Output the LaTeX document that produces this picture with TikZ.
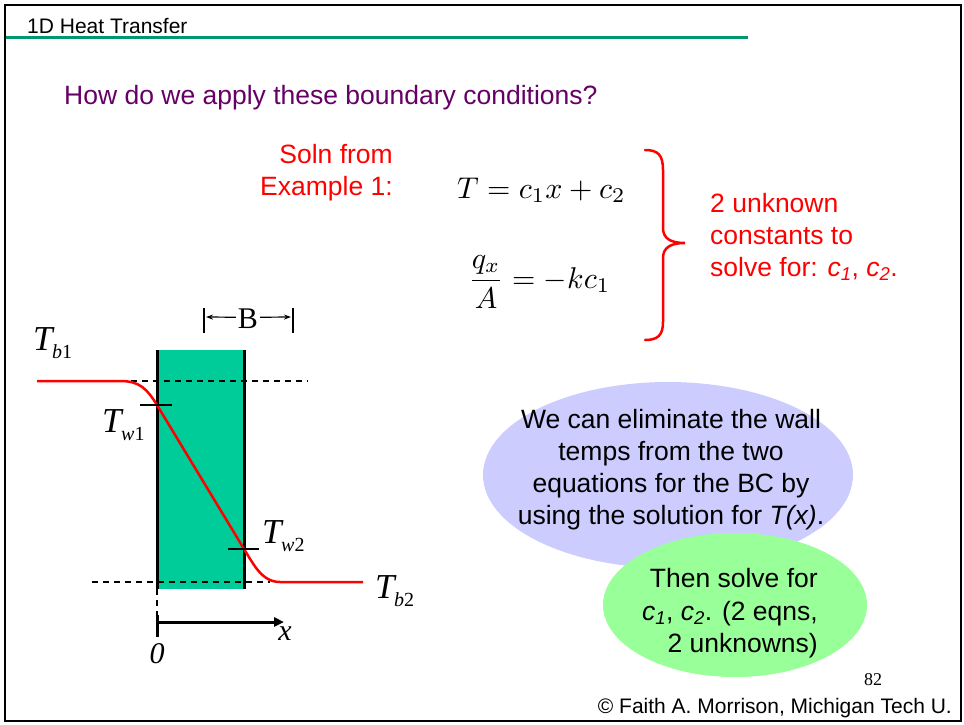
\documentclass[tikz,border=0pt]{standalone}
\usepackage{amsmath}
\usepackage{graphicx}
\usepackage[no-math]{fontspec}
\setmainfont{Liberation Sans}
\newfontfamily\timesf{Liberation Serif}
\usetikzlibrary{arrows.meta}
\definecolor{titlegreen}{RGB}{0,150,110}
\definecolor{wallgreen}{RGB}{0,204,153}
\definecolor{headpurple}{RGB}{102,0,102}
\definecolor{lavender}{RGB}{204,204,255}
\definecolor{lightgreen}{RGB}{153,255,153}
\newcommand{\Tlab}[2]{{\timesf\fontsize{35}{40}\selectfont\itshape T\kern-0.5pt\raisebox{-8pt}{\fontsize{20}{24}\selectfont #1\upshape #2}}}
\newcommand{\csub}[1]{{\itshape c\textsubscript{#1}}}
\tikzset{
  txt/.style={inner sep=0pt, font=\fontsize{26.5}{32}\selectfont},
  eqn/.style={inner sep=0pt, font=\fontsize{10}{12}\selectfont},
  thick black/.style={line width=3pt, black},
  dash line/.style={line width=1.2pt, dashed, dash pattern=on 6pt off 5pt},
  lab/.style={inner sep=0pt, anchor=base west},
}
\begin{document}
\begin{tikzpicture}[x=1pt,y=-1pt]
\useasboundingbox (0,0) rectangle (964,724);
\fill[white] (0,0) rectangle (964,724);
\draw[line width=2pt] (5,5) rectangle (961,721);
\draw[titlegreen, line width=3pt] (6,37) -- (748,37);
\node[txt, anchor=base west, font=\fontsize{21}{24}\selectfont] (title) at (27,33) {1D Heat Transfer};
\node[txt, anchor=base west, headpurple] (heading) at (64,104) {How do we apply these boundary conditions?};

% solution text
\node[txt, anchor=base east, red] (soln1) at (393,163) {Soln from};
\node[txt, anchor=base east, red] (soln2) at (393,195) {Example 1:};
\node[eqn, anchor=base west] (eq1) at (457,198) {\scalebox{3}{$T = c_1x + c_2$}};
\node[eqn, anchor=west] (eq2) at (468,282) {\scalebox{3}{$\dfrac{q_x}{A} = -kc_1$}};

% brace
\draw[red, line width=2.5pt, line cap=round] (645,150) .. controls (658,150) and (663,155) .. (663,170)
  -- (663,228) .. controls (663,238) and (670,243) .. (685,243)
  .. controls (670,243) and (663,248) .. (663,258)
  -- (663,322) .. controls (663,335) and (658,340) .. (645,340);
\node[txt, anchor=base west, red] (unk1) at (710,212) {2 unknown};
\node[txt, anchor=base west, red] (unk2) at (710,244) {constants to};
\node[txt, anchor=base west, red] (unk3) at (710,276) {solve for: \csub{1}, \csub{2}.};

% wall diagram
\fill[wallgreen] (157,350) rectangle (244,589);
\draw[dash line] (120,381) -- (308,381);
\draw[dash line] (92,582) -- (270,582);
\draw[dash line] (157,589) -- (157,615);
\draw[thick black] (157,350) -- (157,589);
\draw[thick black] (244,350) -- (244,589);
\draw[red, line width=2.5pt] (37,381) -- (120,381) .. controls (140,381) and (147,389) .. (157,405)
  -- (244,549) .. controls (254,565) and (262,582) .. (280,582) -- (363,582);
\draw[line width=2.5pt] (140,405) -- (172,405);
\draw[line width=2.5pt] (228,549) -- (259,549);

\node[lab] (tb1) at (33,350) {\Tlab{b}{1}};
\node[lab] (tw1) at (102,432) {\Tlab{w}{1}};
\node[lab] (tw2) at (262,543) {\Tlab{w}{2}};
\node[lab] (tb2) at (375,598) {\Tlab{b}{2}};

% B dimension
\draw[line width=2.5pt] (204,308) -- (204,333);
\draw[line width=2.5pt] (293,308) -- (293,333);
\node[inner sep=0pt, anchor=base, font=\timesf\fontsize{30}{34}\selectfont] (B) at (248,328) {B};
\draw[line width=1.2pt, -{Stealth[length=7pt,width=5pt]}] (B.west) ++(-2,-1) coordinate (bl) -- (206,317);
\draw[line width=1.2pt, -{Stealth[length=7pt,width=5pt]}] (B.east) ++(2,-1) coordinate (br) -- (291,317);

% axis
\draw[thick black] (157,615) -- (157,637);
\node[inner sep=0pt, anchor=base, font=\timesf\fontsize{30}{34}\selectfont\itshape] (xl) at (285,640) {x};
\node[inner sep=0pt, anchor=base, font=\timesf\fontsize{30}{34}\selectfont\itshape] (zero) at (157,663) {0};
\draw[line width=3pt, -{Triangle[length=10pt,width=9pt]}] (157,622) -- (284,622);

% ellipses
\fill[lavender] (668,475) ellipse [x radius=185, y radius=93];
\fill[lightgreen] (735,605) ellipse [x radius=132, y radius=72];
\node[txt, anchor=base] (e1) at (671,428) {We can eliminate the wall};
\node[txt, anchor=base] (e2) at (671,460) {temps from the two};
\node[txt, anchor=base] (e3) at (671,492) {equations for the BC by};
\node[txt, anchor=base] (e4) at (671,524) {using the solution for {\itshape T(x)}.};
\node[txt, anchor=base east] (g1) at (818,587) {Then solve for};
\node[txt, anchor=base east] (g2) at (818,620) {\csub{1}, \csub{2}. (2 eqns,};
\node[txt, anchor=base east] (g3) at (818,652) {2 unknowns)};

\node[inner sep=0pt, anchor=base, font=\timesf\fontsize{18}{20}\selectfont] (pg) at (873,685) {82};
\node[inner sep=0pt, anchor=base east, font=\fontsize{21}{24}\selectfont] (copy) at (952,713) {© Faith A. Morrison, Michigan Tech U.};
\end{tikzpicture}
\end{document}
